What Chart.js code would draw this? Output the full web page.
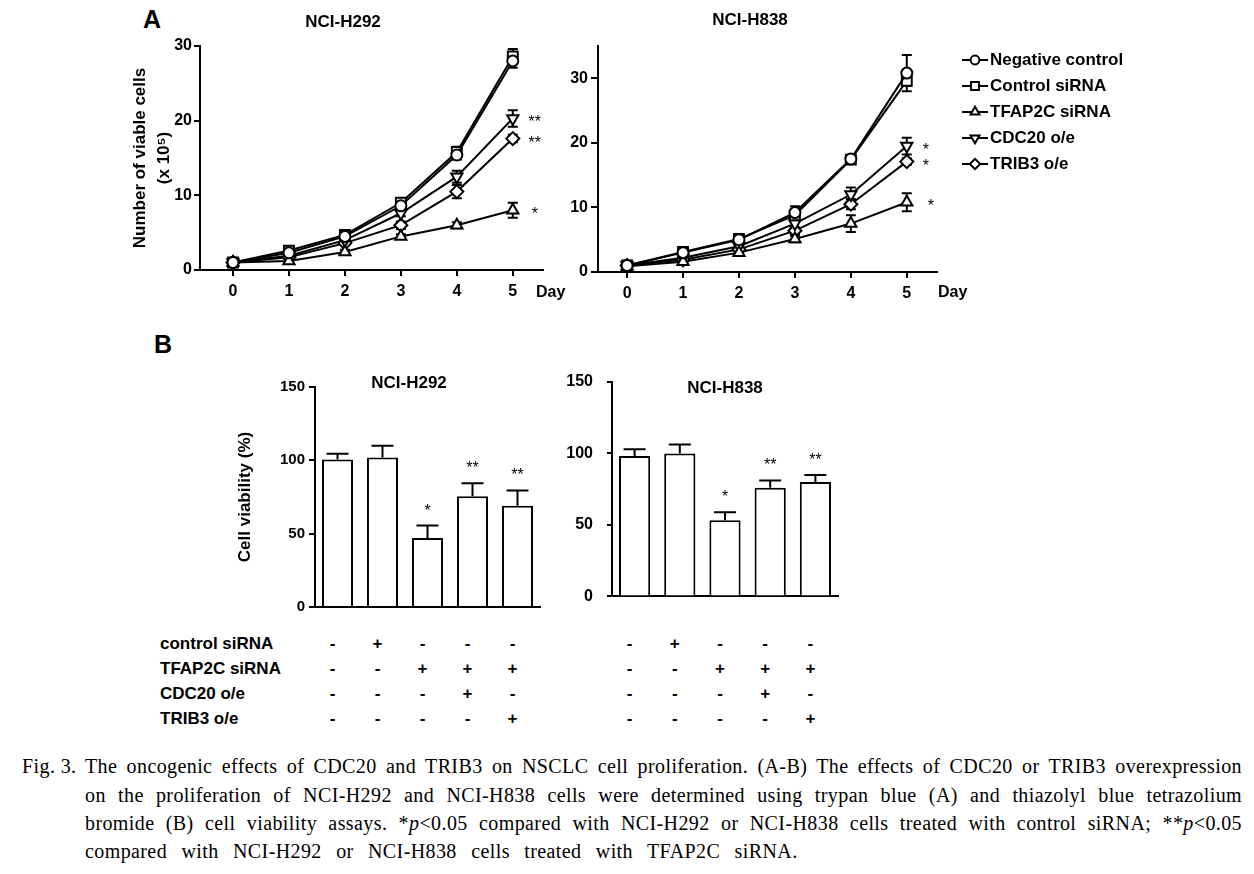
<!DOCTYPE html>
<html>
<head>
<meta charset="utf-8">
<script src="https://cdn.jsdelivr.net/npm/chart.js@4.4.1/dist/chart.umd.min.js"></script>
<style>
html, body { margin:0; padding:0; background:#fff; width:1254px; height:874px; overflow:hidden; position:relative; font-family:'Liberation Sans', Arial, sans-serif; color:#000; }
.box { position:absolute; }
.letter { position:absolute; font-weight:bold; font-size:25px; line-height:25px; }
.tlabel { position:absolute; left:160px; font-weight:bold; font-size:17px; line-height:20px; white-space:nowrap; }
.sign { position:absolute; font-weight:bold; font-size:17px; line-height:20px; width:20px; margin-left:-10px; text-align:center; }
.cap { position:absolute; font-family:'Liberation Serif', 'Times New Roman', serif; font-size:20px; line-height:28px; letter-spacing:0.4px; white-space:normal; text-align:justify; text-align-last:justify; }
.cap4 { text-align:left; text-align-last:left; white-space:nowrap; word-spacing:9px; }
</style>
</head>
<body>
<div class="letter" style="left:143px;top:7px;">A</div>
<div class="letter" style="left:154px;top:332px;">B</div>

<div class="box" style="left:120px;top:0px;width:450px;height:310px;"><canvas id="cH292"></canvas></div>
<div class="box" style="left:540px;top:0px;width:630px;height:310px;"><canvas id="cH838"></canvas></div>
<div class="box" style="left:150px;top:350px;width:400px;height:270px;"><canvas id="bH292"></canvas></div>
<div class="box" style="left:560px;top:350px;width:290px;height:270px;"><canvas id="bH838"></canvas></div>

<div class="cap" style="left:22px;top:752px;width:70px;text-align:left;text-align-last:left;">Fig. 3.</div>
<div class="cap" style="left:85px;top:752px;width:1157px;">The oncogenic effects of CDC20 and TRIB3 on NSCLC cell proliferation. (A-B) The effects of CDC20 or TRIB3 overexpression</div>
<div class="cap" style="left:85px;top:781px;width:1157px;">on the proliferation of NCI-H292 and NCI-H838 cells were determined using trypan blue (A) and thiazolyl blue tetrazolium</div>
<div class="cap" style="left:85px;top:809px;width:1157px;">bromide (B) cell viability assays. *<i>p</i>&lt;0.05 compared with NCI-H292 or NCI-H838 cells treated with control siRNA; **<i>p</i>&lt;0.05</div>
<div class="cap cap4" style="left:85px;top:837px;">compared with NCI-H292 or NCI-H838 cells treated with TFAP2C siRNA.</div>

<script>
// ---------------- DATA ----------------
const days = [0, 1, 2, 3, 4, 5];
const dayTicks = [0, 1, 2, 3, 4, 5];
const cellTicks = [0, 10, 20, 30];
const viabilityTicks = [0, 50, 100, 150];
const seriesNames = ['Negative control', 'Control siRNA', 'TFAP2C siRNA', 'CDC20 o/e', 'TRIB3 o/e'];

// NCI-H292 viable cells (x 10^5)
const h292Negative = [1.0, 2.3, 4.5, 8.6, 15.4, 28.0];
const h292Control  = [1.0, 2.6, 4.7, 9.0, 15.8, 28.6];
const h292TFAP2C   = [1.0, 1.2, 2.4, 4.5, 6.0, 8.0];
const h292CDC20    = [1.0, 1.9, 4.0, 7.6, 12.5, 20.3];
const h292TRIB3    = [1.0, 1.7, 3.6, 6.0, 10.5, 17.6];
const h292NegativeErr = [0.2, 0.3, 0.3, 0.4, 0.6, 0.9];
const h292ControlErr  = [0.2, 0.3, 0.3, 0.5, 0.7, 1.0];
const h292TFAP2CErr   = [0.1, 0.2, 0.3, 0.3, 0.4, 1.0];
const h292CDC20Err    = [0.1, 0.2, 0.3, 0.4, 0.8, 1.1];
const h292TRIB3Err    = [0.1, 0.2, 0.3, 0.5, 0.9, 0.5];
const h292Stars = ['', '', '*', '**', '**'];

// NCI-H838 viable cells (x 10^5)
const h838Negative = [1.0, 3.0, 5.0, 9.2, 17.5, 30.8];
const h838Control  = [1.0, 3.1, 5.1, 8.8, 17.4, 29.6];
const h838TFAP2C   = [0.9, 1.6, 3.0, 5.1, 7.5, 10.8];
const h838CDC20    = [1.0, 2.2, 4.0, 7.5, 12.0, 19.5];
const h838TRIB3    = [1.0, 1.9, 3.5, 6.4, 10.5, 17.1];
const h838NegativeErr = [0.3, 0.4, 0.4, 1.0, 0.5, 2.8];
const h838ControlErr  = [0.3, 0.4, 0.4, 0.8, 0.5, 0.8];
const h838TFAP2CErr   = [0.2, 0.4, 0.4, 0.5, 1.3, 1.4];
const h838CDC20Err    = [0.2, 0.3, 0.4, 0.6, 1.1, 1.3];
const h838TRIB3Err    = [0.2, 0.3, 0.4, 0.5, 0.8, 0.5];
const h838Stars = ['', '', '*', '*', '*'];

// Cell viability (%)
const barGroups = ['Negative control', 'Control siRNA', 'TFAP2C siRNA', 'TFAP2C siRNA + CDC20 o/e', 'TFAP2C siRNA + TRIB3 o/e'];
const h292Viability    = [100.5, 102, 47, 75.5, 69];
const h292ViabilityErr = [4, 8, 8.5, 8.8, 10.5];
const h838Viability    = [98.3, 100, 53.3, 76, 80];
const h838ViabilityErr = [4.7, 6.3, 5.6, 5.1, 4.9];
const viabilityStars = ['', '', '*', '**', '**'];

// Treatment table
const treatmentRows = ['control siRNA', 'TFAP2C siRNA', 'CDC20 o/e', 'TRIB3 o/e'];
const treatmentSigns = [
  ['-', '+', '-', '-', '-'],
  ['-', '-', '+', '+', '+'],
  ['-', '-', '-', '+', '-'],
  ['-', '-', '-', '-', '+']
];

// ---------------- STYLE ----------------
const FONT = "'Liberation Sans', Arial, Helvetica, sans-serif";
Chart.defaults.font.family = FONT;
Chart.defaults.color = '#000';
Chart.defaults.animation = false;
Chart.defaults.events = [];
Chart.defaults.plugins.legend.display = false;
Chart.defaults.plugins.tooltip.enabled = false;

const LW = 2;
const markerStyles = [
  { pointStyle: 'circle',   rotation: 0,   radius: 5.5 },
  { pointStyle: 'rect',     rotation: 0,   radius: 7 },
  { pointStyle: 'triangle', rotation: 0,   radius: 6.5 },
  { pointStyle: 'triangle', rotation: 180, radius: 6.5 },
  { pointStyle: 'rectRot',  rotation: 0,   radius: 6.5 }
];

// ---------------- PLUGINS ----------------
function drawErrors(chart, opts) {
  const ctx = chart.ctx;
  ctx.save();
  ctx.strokeStyle = '#000';
  ctx.lineWidth = opts.lineWidth;
  chart.data.datasets.forEach((ds, i) => {
    const err = ds.errorBars;
    if (!err) return;
    const meta = chart.getDatasetMeta(i);
    const ys = chart.scales[meta.yAxisID];
    meta.data.forEach((el, j) => {
      const raw = ds.data[j];
      const v = (raw !== null && typeof raw === 'object') ? raw.y : raw;
      const e = err[j];
      if (!e) return;
      const x = el.x, hw = opts.capWidth / 2;
      const yTop = ys.getPixelForValue(v + e);
      const yBase = ys.getPixelForValue(opts.upperOnly ? v : v - e);
      ctx.beginPath();
      ctx.moveTo(x, yBase); ctx.lineTo(x, yTop);
      ctx.moveTo(x - hw, yTop); ctx.lineTo(x + hw, yTop);
      if (!opts.upperOnly) { ctx.moveTo(x - hw, yBase); ctx.lineTo(x + hw, yBase); }
      ctx.stroke();
    });
  });
  ctx.restore();
}
const errorBarPlugin = {
  id: 'errorBars',
  defaults: { layer: 'after', capWidth: 10, lineWidth: 2, upperOnly: false },
  beforeDatasetsDraw(chart, args, opts) { if (opts.layer === 'before') drawErrors(chart, opts); },
  afterDatasetsDraw(chart, args, opts) { if (opts.layer !== 'before') drawErrors(chart, opts); }
};

const markPlugin = {
  id: 'marks',
  defaults: { starFont: "16px " + FONT, starShift: 9, barGap: 20, axisEndLabel: '', axisEndFont: "bold 16px " + FONT, axisEndDx: 0, axisEndDy: 22 },
  afterDatasetsDraw(chart, args, opts) {
    const ctx = chart.ctx;
    ctx.save();
    ctx.fillStyle = '#000';
    ctx.textAlign = 'center';
    ctx.textBaseline = 'alphabetic';
    ctx.font = opts.starFont;
    chart.data.datasets.forEach((ds, i) => {
      const meta = chart.getDatasetMeta(i);
      const ys = chart.scales[meta.yAxisID];
      if (ds.endMark) {
        const last = meta.data[meta.data.length - 1];
        ctx.fillText(ds.endMark, last.x + ds.endMarkDx, last.y + opts.starShift);
      }
      if (ds.barMarks) {
        meta.data.forEach((el, j) => {
          const t = ds.barMarks[j];
          if (!t) return;
          const top = ys.getPixelForValue(ds.data[j] + (ds.errorBars ? ds.errorBars[j] : 0));
          ctx.fillText(t, el.x, top - opts.barGap + opts.starShift);
        });
      }
    });
    if (opts.axisEndLabel) {
      const xs = chart.scales.x;
      ctx.font = opts.axisEndFont;
      ctx.textAlign = 'left';
      ctx.textBaseline = 'middle';
      ctx.fillText(opts.axisEndLabel, xs.right + opts.axisEndDx, xs.top + opts.axisEndDy);
    }
    ctx.restore();
  }
};

const lineLegendPlugin = {
  id: 'lineLegend',
  defaults: { display: false },
  afterDraw(chart, args, opts) {
    if (!opts.display) return;
    const ctx = chart.ctx, ca = chart.chartArea;
    ctx.save();
    chart.data.datasets.forEach((ds, i) => {
      const y = ca.top + opts.top + i * opts.spacing;
      const cx = ca.right + opts.markerX;
      ctx.strokeStyle = '#000';
      ctx.lineWidth = LW;
      ctx.beginPath();
      ctx.moveTo(cx - opts.lineHalf, y); ctx.lineTo(cx + opts.lineHalf, y);
      ctx.stroke();
      ctx.fillStyle = '#fff';
      const r = ds.pointRadius * opts.markerScale;
      if (Chart.helpers && Chart.helpers.drawPoint) {
        Chart.helpers.drawPoint(ctx, { pointStyle: ds.pointStyle, rotation: ds.pointRotation || 0, radius: r, borderWidth: LW }, cx, y);
      } else {
        ctx.beginPath(); ctx.arc(cx, y, r, 0, Math.PI * 2); ctx.fill(); ctx.stroke();
      }
      ctx.fillStyle = '#000';
      ctx.font = opts.font;
      ctx.textAlign = 'left';
      ctx.textBaseline = 'middle';
      ctx.fillText(ds.label, ca.right + opts.textX, y);
    });
    ctx.restore();
  }
};

// ---------------- BUILDERS ----------------
function lineDatasets(valuesList, errList, marks, markDx) {
  return seriesNames.map((name, i) => ({
    label: name,
    data: days.map((d, j) => ({ x: d, y: valuesList[i][j] })),
    errorBars: errList[i],
    endMark: marks[i],
    endMarkDx: markDx[i],
    borderColor: '#000',
    borderWidth: LW,
    pointStyle: markerStyles[i].pointStyle,
    pointRotation: markerStyles[i].rotation,
    pointRadius: markerStyles[i].radius,
    pointBackgroundColor: '#fff',
    pointBorderColor: '#000',
    pointBorderWidth: LW,
    tension: 0,
    fill: false,
    clip: false
  }));
}

function axisGrid(len) {
  return { display: true, drawOnChartArea: false, drawTicks: true, tickLength: len, color: '#000', lineWidth: 2 };
}

function lineChart(id, cfg) {
  return new Chart(document.getElementById(id), {
    type: 'line',
    data: { datasets: cfg.datasets },
    options: {
      responsive: true,
      maintainAspectRatio: false,
      layout: { padding: cfg.padding },
      scales: {
        x: {
          type: 'linear', min: cfg.xMin, max: cfg.xMax,
          afterBuildTicks: s => { s.ticks = dayTicks.map(v => ({ value: v })); },
          afterFit: s => { s.height = cfg.xHeight; },
          ticks: { font: { size: 16, weight: 'bold' }, padding: 6, color: '#000', maxRotation: 0 },
          grid: axisGrid(6),
          border: { display: true, color: '#000', width: 2 }
        },
        y: {
          type: 'linear', min: 0, max: cfg.yMax,
          afterBuildTicks: s => { s.ticks = cellTicks.map(v => ({ value: v })); },
          afterFit: s => { s.width = cfg.yWidth; },
          ticks: { font: { size: 16, weight: 'bold' }, padding: cfg.yTickPad, color: '#000' },
          grid: axisGrid(cfg.yTickLen),
          border: { display: true, color: '#000', width: 2 },
          title: cfg.yTitle || { display: false }
        }
      },
      plugins: {
        title: { display: true, text: cfg.title, color: '#000', font: { size: 17, weight: 'bold', lineHeight: 1.2 }, padding: cfg.titlePad },
        errorBars: { layer: 'before', capWidth: 10, lineWidth: LW, upperOnly: false },
        marks: { axisEndLabel: 'Day', axisEndDx: cfg.dayDx, axisEndDy: cfg.dayDy },
        lineLegend: cfg.legend || { display: false }
      }
    },
    plugins: [errorBarPlugin, markPlugin, lineLegendPlugin]
  });
}

function barChart(id, cfg) {
  return new Chart(document.getElementById(id), {
    type: 'bar',
    data: {
      labels: barGroups,
      datasets: [{
        label: 'Cell viability (%)',
        data: cfg.values,
        errorBars: cfg.errors,
        barMarks: viabilityStars,
        backgroundColor: '#fff',
        borderColor: '#000',
        borderWidth: 2,
        borderSkipped: 'bottom',
        barPercentage: 0.69,
        categoryPercentage: 1.0
      }]
    },
    options: {
      responsive: true,
      maintainAspectRatio: false,
      layout: { padding: cfg.padding },
      scales: {
        x: {
          type: 'category',
          ticks: { display: false },
          grid: { display: false, drawTicks: false },
          border: { display: true, color: '#000', width: 2 },
          afterFit: s => { s.height = cfg.xHeight; }
        },
        y: {
          min: 0, max: 150,
          afterBuildTicks: s => { s.ticks = viabilityTicks.map(v => ({ value: v })); },
          afterFit: s => { s.width = cfg.yWidth; },
          ticks: { font: { size: cfg.tickSize, weight: 'bold' }, padding: cfg.yTickPad, color: '#000' },
          grid: axisGrid(cfg.yTickLen),
          border: { display: true, color: '#000', width: 2 },
          title: cfg.yTitle || { display: false }
        }
      },
      plugins: {
        title: { display: true, text: cfg.title, color: '#000', fullSize: cfg.titleFull, font: { size: 17, weight: 'bold', lineHeight: 1.2 }, padding: cfg.titlePad },
        errorBars: { layer: 'after', capWidth: 22, lineWidth: 2, upperOnly: true },
        marks: { barGap: 19 }
      }
    },
    plugins: [errorBarPlugin, markPlugin]
  });
}

// ---------------- CHARTS ----------------
const chartA1 = lineChart('cH292', {
  datasets: lineDatasets(
    [h292Negative, h292Control, h292TFAP2C, h292CDC20, h292TRIB3],
    [h292NegativeErr, h292ControlErr, h292TFAP2CErr, h292CDC20Err, h292TRIB3Err],
    h292Stars, [0, 0, 22, 22, 22]),
  padding: { left: 23, right: 27, top: 0, bottom: 0 },
  xMin: -0.59, xMax: 5.54, xHeight: 40,
  yMax: 30, yWidth: 57, yTickPad: 2, yTickLen: 6,
  yTitle: { display: true, text: ['Number of viable cells', '(x 10\u2075)'], color: '#000', font: { size: 17, weight: 'bold', lineHeight: 1.45 }, padding: { top: -15.3, bottom: 0 } },
  title: 'NCI-H292',
  titlePad: { top: 11.8, bottom: 13.8 },
  dayDx: -7, dayDy: 23
});

const chartA2 = lineChart('cH838', {
  datasets: lineDatasets(
    [h838Negative, h838Control, h838TFAP2C, h838CDC20, h838TRIB3],
    [h838NegativeErr, h838ControlErr, h838TFAP2CErr, h838CDC20Err, h838TRIB3Err],
    h838Stars, [0, 0, 24, 19, 19]),
  padding: { left: 23, right: 233, top: 0, bottom: 0 },
  xMin: -0.52, xMax: 5.54, xHeight: 38,
  yMax: 35, yWidth: 35, yTickPad: 3, yTickLen: 7,
  title: 'NCI-H838',
  titlePad: { top: 9.8, bottom: 15.8 },
  dayDx: 1, dayDy: 21,
  legend: { display: true, top: 14, spacing: 26, markerX: 38, lineHalf: 13, textX: 53, markerScale: 0.8, font: "bold 17px " + FONT }
});

const chartB1 = barChart('bH292', {
  values: h292Viability, errors: h292ViabilityErr,
  padding: { left: 128, right: 10, top: 0, bottom: 0 },
  xHeight: 8, yWidth: 37, yTickPad: 4, yTickLen: 6, tickSize: 15,
  yTitle: { display: true, text: 'Cell viability (%)', color: '#000', font: { size: 17, weight: 'bold', lineHeight: 1.2 }, padding: { top: -43.2, bottom: 0 } },
  title: 'NCI-H292', titleFull: true,
  titlePad: { top: 22.8, bottom: -6.2 }
});

const chartB2 = barChart('bH838', {
  values: h838Viability, errors: h838ViabilityErr,
  padding: { left: 7, right: 12, top: 0, bottom: 0 },
  xHeight: 13, yWidth: 45, yTickPad: 14, yTickLen: 5, tickSize: 16,
  title: 'NCI-H838', titleFull: false,
  titlePad: { top: 27.8, bottom: -16.2 }
});

// ---------------- TREATMENT TABLE ----------------
const rowTops = [634, 659, 684, 709];
treatmentRows.forEach((name, r) => {
  const el = document.createElement('div');
  el.className = 'tlabel';
  el.style.top = rowTops[r] + 'px';
  el.textContent = name;
  document.body.appendChild(el);
});
function placeSigns(chart, containerLeft) {
  treatmentSigns.forEach((row, r) => {
    row.forEach((s, c) => {
      const el = document.createElement('div');
      el.className = 'sign';
      el.textContent = s;
      el.style.left = (containerLeft + chart.scales.x.getPixelForValue(c) - 5) + 'px';
      el.style.top = rowTops[r] + 'px';
      document.body.appendChild(el);
    });
  });
}
placeSigns(chartB1, 150);
placeSigns(chartB2, 560);
</script>
</body>
</html>
